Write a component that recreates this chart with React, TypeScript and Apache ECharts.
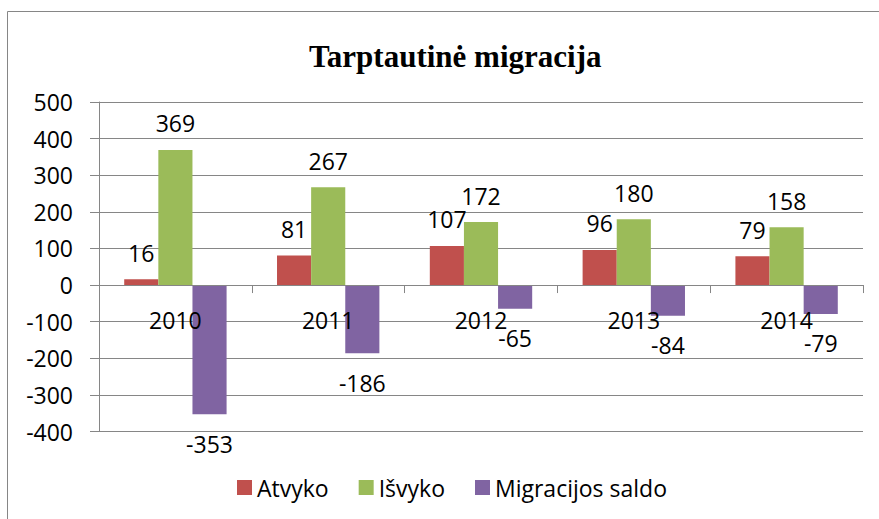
import React, { useEffect, useRef } from "react";
import * as echarts from "echarts";

const years = ["2010", "2011", "2012", "2013", "2014"];
const atvyko = [16, 81, 107, 96, 79];
const isvyko = [369, 267, 172, 180, 158];
const saldo = [-353, -186, -65, -84, -79];
const seriesNames = ["Atvyko", "Išvyko", "Migracijos saldo"];
const titleText = "Tarptautinė migracija";

const FONT = "'Open Sans', sans-serif";
const GRAY = "#868686";
const FS = 23;

export default function App() {
  const ref = useRef<HTMLDivElement>(null);
  useEffect(() => {
    if (!ref.current) return;
    const chart = echarts.init(ref.current, undefined, { renderer: "svg" });
    const labelBase = {
      show: true,
      color: "#000",
      fontFamily: FONT,
      fontSize: FS,
    };
    const gridTop = 102;
    const gridBottom = 87.5;
    const plotH = 519 - gridTop - gridBottom;
    const zeroOffset = -(plotH * 400) / 900;
    chart.setOption({
      animation: false,
      backgroundColor: "#fff",
      title: {
        text: titleText,
        left: 304,
        top: 36,
        textStyle: {
          fontFamily: "'Liberation Serif', 'Times New Roman', serif",
          fontWeight: "bold",
          fontSize: 31,
          color: "#000",
        },
      },
      graphic: [
        {
          type: "rect",
          shape: { x: 7.5, y: 11.5, width: 1000, height: 1000 },
          style: { fill: "none", stroke: GRAY, lineWidth: 1 },
          silent: true,
          z: -1,
        },
      ],
      legend: {
        left: 237,
        top: 476,
        padding: 0,
        itemWidth: 15,
        itemHeight: 15,
        itemGap: 30,
        icon: "rect",
        textStyle: { fontFamily: FONT, fontSize: FS, color: "#000" },
        data: seriesNames,
      },
      grid: { left: 99, right: 16, top: gridTop, bottom: gridBottom },
      xAxis: {
        type: "category",
        data: years,
        z: 10,
        offset: zeroOffset,
        axisLine: { onZero: false, lineStyle: { color: GRAY, width: 1 } },
        axisTick: { show: true, length: 8, alignWithLabel: false, lineStyle: { color: GRAY } },
        axisLabel: { margin: 23, color: "#000", fontFamily: FONT, fontSize: FS },
      },
      yAxis: {
        type: "value",
        min: -400,
        max: 500,
        interval: 100,
        axisLine: { show: true, lineStyle: { color: GRAY, width: 1 } },
        axisTick: { show: true, length: 9, lineStyle: { color: GRAY } },
        axisLabel: { margin: 26, color: "#000", fontFamily: FONT, fontSize: FS },
        splitLine: { show: true, lineStyle: { color: GRAY, width: 1 } },
      },
      series: [
        {
          name: seriesNames[0],
          type: "bar",
          data: atvyko,
          itemStyle: { color: "#C0504D" },
          barGap: "0%",
          barCategoryGap: "33%",
          label: { ...labelBase, position: "top", distance: 15 },
        },
        {
          name: seriesNames[1],
          type: "bar",
          data: isvyko,
          itemStyle: { color: "#9BBB59" },
          barGap: "0%",
          barCategoryGap: "33%",
          label: { ...labelBase, position: "top", distance: 15 },
        },
        {
          name: seriesNames[2],
          type: "bar",
          data: saldo,
          itemStyle: { color: "#8064A2" },
          barGap: "0%",
          barCategoryGap: "33%",
          label: { ...labelBase, position: "bottom", distance: 18 },
        },
      ],
    });
    return () => chart.dispose();
  }, []);
  return (
    <div
      ref={ref}
      style={{ position: "absolute", left: 0, top: 0, width: 879, height: 519 }}
    />
  );
}
